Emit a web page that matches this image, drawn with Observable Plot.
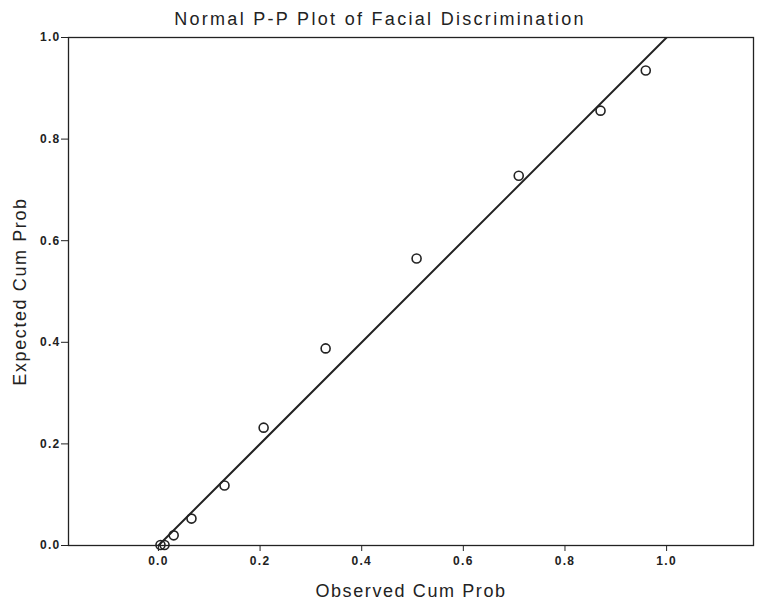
<!DOCTYPE html>
<html>
<head>
<meta charset="utf-8">
<script src="https://cdn.jsdelivr.net/npm/d3@7"></script>
<script src="https://cdn.jsdelivr.net/npm/@observablehq/plot@0.6"></script>
<style>
  html, body { margin: 0; padding: 0; background: #fff; }
  g[aria-label="x-axis tick label"] text, g[aria-label="y-axis tick label"] text { letter-spacing: 1.3px; }
</style>
</head>
<body>
<div id="chart"></div>
<script>
const titleText = "Normal P-P Plot of Facial Discrimination";
const xLabel = "Observed Cum Prob";
const yLabel = "Expected Cum Prob";
const observed = [0.004, 0.012, 0.030, 0.065, 0.130, 0.207, 0.329, 0.508, 0.709, 0.870, 0.959];
const expected = [0.001, 0.001, 0.020, 0.053, 0.118, 0.232, 0.388, 0.565, 0.728, 0.856, 0.935];
const refLine = [0, 1];
const xTicks = [0, 0.2, 0.4, 0.6, 0.8, 1.0];
const yTicks = [0, 0.2, 0.4, 0.6, 0.8, 1.0];

const points = observed.map((x, i) => ({x, y: expected[i]}));
const diag = refLine.map(v => ({x: v, y: v}));
const ink = "#222";

const chart = Plot.plot({
  width: 759,
  height: 601,
  marginLeft: 68,
  marginRight: 6,
  marginTop: 37,
  marginBottom: 56,
  style: {fontFamily: "'Liberation Sans', Arial, sans-serif", background: "#fff", color: ink},
  x: {domain: [-0.177, 1.171]},
  y: {domain: [0, 1]},
  marks: [
    Plot.frame({stroke: ink, strokeWidth: 1.3}),
    Plot.axisX({ticks: xTicks, tickFormat: d3.format(".1f"), tickSize: 6, tickPadding: 5,
      fontSize: 12, fontWeight: "bold", label: null, stroke: ink, fill: ink}),
    Plot.axisY({ticks: yTicks, tickFormat: d3.format(".1f"), tickSize: 7, tickPadding: 1,
      fontSize: 12, fontWeight: "bold", label: null, stroke: ink, fill: ink}),
    Plot.line(diag, {x: "x", y: "y", stroke: ink, strokeWidth: 2, clip: true}),
    Plot.dot(points, {x: "x", y: "y", r: 4.5, stroke: ink, strokeWidth: 1.6, fill: "none"}),
    Plot.text([titleText], {frameAnchor: "top", dx: -31, dy: -25, fontSize: 18, fill: ink}),
    Plot.text([xLabel], {frameAnchor: "bottom", dy: 51, fontSize: 18, fill: ink}),
    Plot.text([yLabel], {frameAnchor: "left", textAnchor: "middle", lineAnchor: "middle", dx: -48, rotate: -90, fontSize: 18, fill: ink})
  ]
});
d3.select(chart).selectAll("text").each(function() {
  const t = this.textContent;
  if (t === titleText) this.setAttribute("letter-spacing", "2.3px");
  else if (t === xLabel || t === yLabel) this.setAttribute("letter-spacing", "1.6px");
});
document.getElementById("chart").appendChild(chart);
</script>
</body>
</html>
